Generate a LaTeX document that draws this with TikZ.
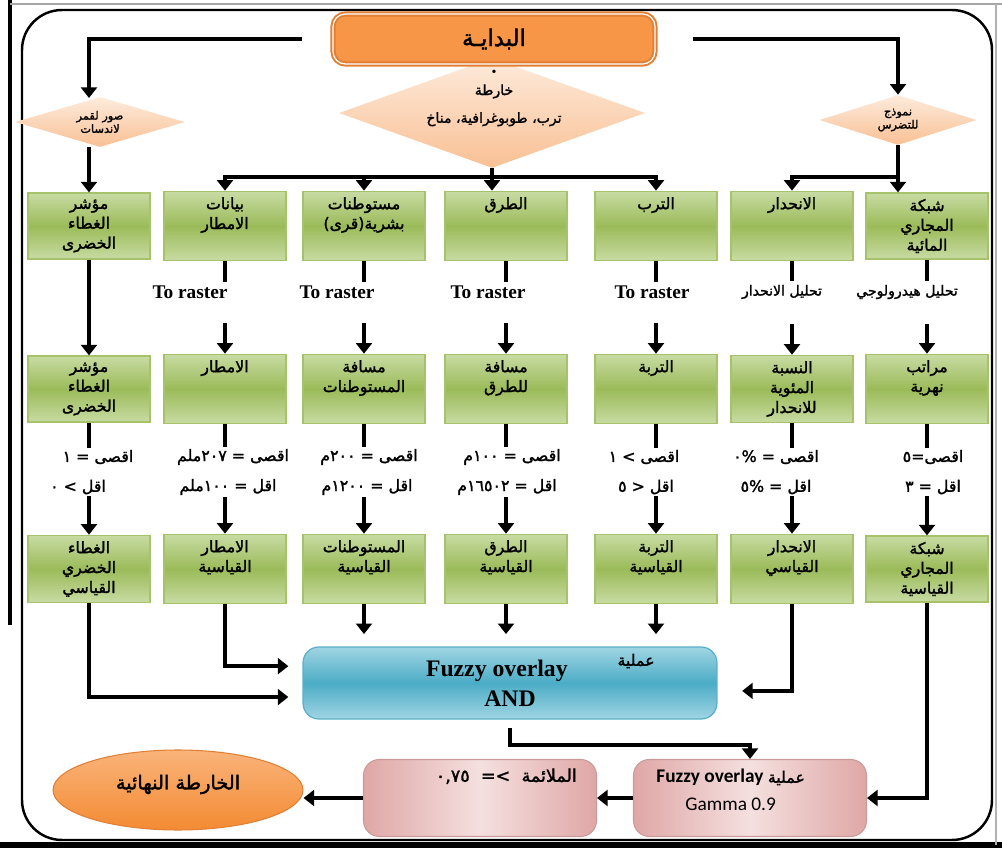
\documentclass[tikz,border=0pt]{standalone}
\usepackage{fontspec}
\setmainfont{Liberation Serif}
\newfontfamily\arabicfont[Script=Arabic,FakeBold=1.6]{DejaVu Sans}
\newfontfamily\calfont{Carlito}
\usetikzlibrary{positioning,arrows.meta,shapes.geometric}
\TeXXeTstate=1
\newcommand{\artext}[1]{{\arabicfont\beginR #1\endR}}
\definecolor{startorange}{HTML}{F79646}
\definecolor{startedge}{HTML}{E07F35}
\definecolor{dialight}{HTML}{FDEBDC}
\definecolor{diadark}{HTML}{F9C094}
\definecolor{boxlight}{HTML}{C8DBA3}
\definecolor{boxmid}{HTML}{9BBB59}
\definecolor{boxedge}{HTML}{A6C26A}
\definecolor{fuzzylight}{HTML}{A0D5E3}
\definecolor{fuzzymid}{HTML}{4BACC6}
\definecolor{fuzzyedge}{HTML}{5AAFC8}
\definecolor{pinklight}{HTML}{F4E0DF}
\definecolor{pinkdark}{HTML}{DFA7A6}
\definecolor{pinkedge}{HTML}{C99A99}
\definecolor{endtop}{HTML}{FAB37A}
\definecolor{endbottom}{HTML}{F38B33}
\tikzset{
  flowline/.style={line width=2.4pt},
  flowarrow/.style={->, line width=2.4pt},
  startbox/.style={draw=startedge, line width=1.1pt, double=white, double distance=0.7pt, fill=startorange, rounded corners=7pt, minimum width=6.44cm, minimum height=1.0cm, font=\fontsize{13}{15}\selectfont},
  choicebox/.style={diamond, top color=dialight, bottom color=diadark, inner sep=0pt, align=center},
  layerbox/.style={draw=boxedge, line width=0.7pt, top color=boxlight, bottom color=boxlight, middle color=boxmid, minimum width=2.44cm, minimum height=1.32cm, align=center, font=\fontsize{9}{11.3}\selectfont},
  rasternote/.style={font=\fontsize{11}{13}\selectfont\bfseries, inner sep=2pt},
  toolnote/.style={font=\fontsize{8}{10}\selectfont, inner sep=2pt},
  limitnote/.style={font=\fontsize{9}{11}\selectfont, inner sep=1pt},
  fuzzybox/.style={draw=fuzzyedge, line width=0.7pt, top color=fuzzylight, bottom color=fuzzylight, middle color=fuzzymid, rounded corners=9pt, minimum width=8.28cm, minimum height=1.44cm, align=center, font=\fontsize{13.5}{12}\selectfont\bfseries},
  gammabox/.style={draw=pinkedge, line width=0.6pt, left color=pinkdark, right color=pinkdark, middle color=pinklight, rounded corners=9pt, minimum width=4.66cm, minimum height=1.54cm, align=center},
  endnode/.style={ellipse, draw=startedge, line width=0.6pt, top color=endtop, bottom color=endbottom, minimum width=5cm, minimum height=1.6cm, font=\fontsize{11}{13}\selectfont}
}
\begin{document}
\begin{tikzpicture}[x=0.02cm, y=-0.02cm, >={Triangle[width=9pt,length=6pt]}]
  \useasboundingbox (0,0) rectangle (1002,848);
  % page frame
  \draw[line width=2.8pt] (10,0) -- (10,625);
  \draw[line width=3pt] (0,845) -- (1002,845);
  \draw[gray!70, line width=1.5pt] (10,4) -- (1002,4);
  \draw[gray!60, line width=1pt] (996,4) -- (996,845);
  \draw[line width=1.4pt, rounded corners=0.8cm] (22,10) rectangle (992,840);

  % start and the three sources
  \node[choicebox, aspect=2.8, minimum width=6.12cm, minimum height=2.2cm] (cdia) at (492,113) {};
  \node[font=\fontsize{8}{10.8}\selectfont, align=center] (cdiatext) at (494,98) {\textbullet\\\artext{خارطة}\\[5pt]\artext{ترب، طوبوغرافية، مناخ}};
  \node[startbox] (start) at (494,39) {\artext{البدايـة}};
  \node[choicebox, aspect=3.4, minimum width=3.4cm, minimum height=1.0cm, font=\fontsize{6.5}{7.5}\selectfont] (ldia) at (100,122) {\artext{صور لقمر}\\\artext{لاندسات}};
  \node[choicebox, aspect=3.1, minimum width=3.14cm, minimum height=1.0cm, font=\fontsize{6.5}{7.5}\selectfont] (rdia) at (898,120) {\artext{نموذج}\\\artext{للتضرس}};
  \coordinate (hub) at (492,177);
  \coordinate (rhub) at (898,177);

  \draw[flowarrow, shorten <=17pt] (start.west) -| (89,98);
  \draw[flowarrow, shorten <=21pt] (start.east) -| (rdia.north);

  % input layers
  \node[layerbox] (r1c1) at (89,226) {\artext{مؤشر}\\\artext{الغطاء}\\\artext{الخضرى}};
  \node[layerbox] (r1c2) at (225,226) {\artext{بيانات}\\\artext{الامطار}\\\strut};
  \node[layerbox] (r1c3) at (364,226) {\artext{مستوطنات}\\\artext{بشرية(قرى)}\\\strut};
  \node[layerbox] (r1c4) at (506,226) {\artext{الطرق}\\\strut\\\strut};
  \node[layerbox] (r1c5) at (656,226) {\artext{الترب}\\\strut\\\strut};
  \node[layerbox] (r1c6) at (792,226) {\artext{الانحدار}\\\strut\\\strut};
  \node[layerbox] (r1c7) at (927,226) {\artext{شبكة}\\\artext{المجاري}\\\artext{المائية}};

  \draw[flowarrow] (r1c1 |- ldia.south) -- (r1c1);
  \draw[flowline] (cdia) -- (hub);
  \draw[flowarrow] (hub) -| (r1c2);
  \draw[flowarrow] (hub) -| (r1c3);
  \draw[flowarrow] (hub) -- (hub |- r1c4.north);
  \draw[flowarrow] (hub) -| (r1c5);
  \draw[flowarrow] (rdia) -- (rdia.south |- r1c7.north);
  \draw[flowarrow] (rhub) -| (r1c6);

  % conversion
  \node[rasternote] (tr2) at (190,292) {To raster};
  \node[rasternote] (tr3) at (337,292) {To raster};
  \node[rasternote] (tr4) at (488,292) {To raster};
  \node[rasternote] (tr5) at (652,292) {To raster};
  \node[toolnote] (an6) at (782,292) {\artext{تحليل الانحدار}};
  \node[toolnote] (an7) at (907,292) {\artext{تحليل هيدرولوجي}};

  \node[layerbox] (r2c1) at (89,389) {\artext{مؤشر}\\\artext{الغطاء}\\\artext{الخضرى}};
  \node[layerbox] (r2c2) at (225,389) {\artext{الامطار}\\\strut\\\strut};
  \node[layerbox] (r2c3) at (364,389) {\artext{مسافة}\\\artext{المستوطنات}\\\strut};
  \node[layerbox] (r2c4) at (506,389) {\artext{مسافة}\\\artext{للطرق}\\\strut};
  \node[layerbox] (r2c5) at (656,389) {\artext{التربة}\\\strut\\\strut};
  \node[layerbox] (r2c6) at (792,389) {\artext{النسبة}\\\artext{المئوية}\\\artext{للانحدار}};
  \node[layerbox] (r2c7) at (927,389) {\artext{مراتب}\\\artext{نهرية}\\\strut};

  \draw[flowarrow] (r1c1) -- (r2c1);
  \draw[flowline] (r1c2) -- (r1c2.south |- tr2.north);
  \draw[flowline] (r1c3) -- (r1c3.south |- tr3.north);
  \draw[flowline] (r1c4) -- (r1c4.south |- tr4.north);
  \draw[flowline] (r1c5) -- (r1c5.south |- tr5.north);
  \draw[flowline] (r1c6) -- (r1c6.south |- an6.north);
  \draw[flowline] (r1c7) -- (r1c7.south |- an7.north);
  \draw[flowarrow, shorten <=12pt] (r2c2.north |- tr2.south) -- (r2c2);
  \draw[flowarrow, shorten <=12pt] (r2c3.north |- tr3.south) -- (r2c3);
  \draw[flowarrow, shorten <=12pt] (r2c4.north |- tr4.south) -- (r2c4);
  \draw[flowarrow, shorten <=12pt] (r2c5.north |- tr5.south) -- (r2c5);
  \draw[flowarrow, shorten <=12pt] (r2c6.north |- an6.south) -- (r2c6);
  \draw[flowarrow, shorten <=12pt] (r2c7.north |- an7.south) -- (r2c7);

  % fuzzy limits
  \node[limitnote] (mx1) at (98,457) {\artext{اقصى = ١}};
  \node[limitnote] (mn1) at (78,487) {\artext{اقل > ٠}};
  \node[limitnote] (mx2) at (233,457) {\artext{اقصى = ٢٠٧ملم}};
  \node[limitnote] (mn2) at (228,487) {\artext{اقل = ١٠٠ملم}};
  \node[limitnote] (mx3) at (369,457) {\artext{اقصى = ٢٠٠م}};
  \node[limitnote] (mn3) at (367,487) {\artext{اقل = ١٢٠٠م}};
  \node[limitnote] (mx4) at (512,457) {\artext{اقصى = ١٠٠م}};
  \node[limitnote] (mn4) at (507,487) {\artext{اقل = ١٦٥٠٢م}};
  \node[limitnote] (mx5) at (644,457) {\artext{اقصى > ١}};
  \node[limitnote] (mn5) at (646,487) {\artext{اقل < ٥}};
  \node[limitnote] (mx6) at (776,457) {\artext{اقصى = \%٠}};
  \node[limitnote] (mn6) at (776,487) {\artext{اقل = \%٥}};
  \node[limitnote] (mx7) at (933,457) {\artext{اقصى=٥}};
  \node[limitnote] (mn7) at (933,487) {\artext{اقل = ٣}};

  \node[layerbox] (r3c1) at (89,569) {\artext{الغطاء}\\\artext{الخضري}\\\artext{القياسي}};
  \node[layerbox] (r3c2) at (225,569) {\artext{الامطار}\\\artext{القياسية}\\\strut};
  \node[layerbox] (r3c3) at (364,569) {\artext{المستوطنات}\\\artext{القياسية}\\\strut};
  \node[layerbox] (r3c4) at (506,569) {\artext{الطرق}\\\artext{القياسية}\\\strut};
  \node[layerbox] (r3c5) at (656,569) {\artext{التربة}\\\artext{القياسية}\\\strut};
  \node[layerbox] (r3c6) at (792,569) {\artext{الانحدار}\\\artext{القياسي}\\\strut};
  \node[layerbox] (r3c7) at (927,569) {\artext{شبكة}\\\artext{المجاري}\\\artext{القياسية}};

  \draw[flowline] (r2c1) -- (r2c1.south |- mx1.north);
  \draw[flowline] (r2c2) -- (r2c2.south |- mx2.north);
  \draw[flowline] (r2c3) -- (r2c3.south |- mx3.north);
  \draw[flowline] (r2c4) -- (r2c4.south |- mx4.north);
  \draw[flowline] (r2c5) -- (r2c5.south |- mx5.north);
  \draw[flowline] (r2c6) -- (r2c6.south |- mx6.north);
  \draw[flowline] (r2c7) -- (r2c7.south |- mx7.north);
  \draw[flowarrow] (r3c1.north |- mn1.south) -- (r3c1);
  \draw[flowarrow] (r3c2.north |- mn2.south) -- (r3c2);
  \draw[flowarrow] (r3c3.north |- mn3.south) -- (r3c3);
  \draw[flowarrow] (r3c4.north |- mn4.south) -- (r3c4);
  \draw[flowarrow] (r3c5.north |- mn5.south) -- (r3c5);
  \draw[flowarrow] (r3c6.north |- mn6.south) -- (r3c6);
  \draw[flowarrow] (r3c7.north |- mn7.south) -- (r3c7);

  % overlay steps
  \node[fuzzybox] (andbox) at (510,683) {Fuzzy overlay\hspace*{15pt}\\[5pt]AND};
  \node[font=\fontsize{9}{11}\selectfont] (andword) at (636,661) {\artext{عملية}};
  \node[gammabox, text depth=9pt] (gammabox) at (750,798) {{\calfont\bfseries\fontsize{11}{13}\selectfont Fuzzy overlay} {\fontsize{9}{11}\selectfont\artext{عملية}}\hspace*{22pt}\\[4pt]{\calfont\fontsize{11}{13}\selectfont Gamma 0.9}\hspace*{22pt}};
  \node[gammabox, text depth=26pt, font=\fontsize{10}{12}\selectfont] (suitbox) at (480,798) {\hspace*{30pt}\artext{الملائمة \ >= \ ٠,٧٥}};
  \node[endnode, text depth=9pt] (finalmap) at (178,790) {\artext{الخارطة النهائية}};

  \draw[flowarrow, shorten >=8pt] (r3c1) |- ([yshift=-8pt]andbox.west);
  \draw[flowarrow, shorten >=8pt] (r3c2) |- ([yshift=9.6pt]andbox.west);
  \draw[flowarrow, shorten >=7pt] (r3c3) -- (r3c3.south |- andbox.north);
  \draw[flowarrow, shorten >=7pt] (r3c4) -- (r3c4.south |- andbox.north);
  \draw[flowarrow, shorten >=7pt] (r3c5) -- (r3c5.south |- andbox.north);
  \draw[flowarrow, shorten >=14pt] (r3c6) |- ([yshift=-4.5pt]andbox.east);
  \draw[flowarrow] (r3c7) |- (gammabox);
  \draw[flowarrow, shorten <=5pt] (andbox) |- ([yshift=8pt]gammabox.north) -- (gammabox);
  \draw[flowarrow] (gammabox) -- (suitbox);
  \draw[flowarrow] (suitbox.west) -- (suitbox.west -| finalmap.east);
\end{tikzpicture}
\end{document}
